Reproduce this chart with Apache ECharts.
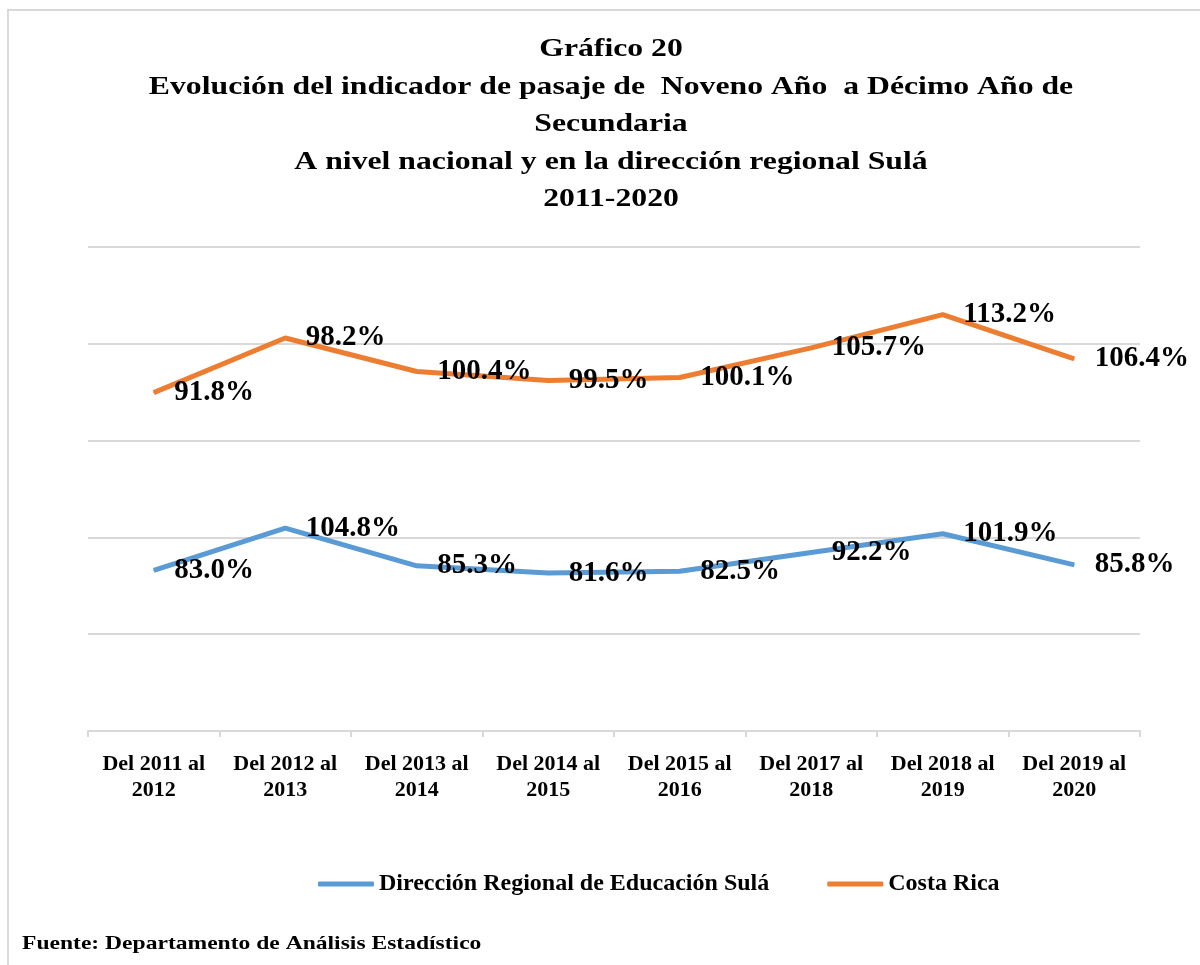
<!DOCTYPE html>
<html>
<head>
<meta charset="utf-8">
<script src="https://cdn.jsdelivr.net/npm/echarts@6/dist/echarts.min.js"></script>
<style>
  html, body { margin: 0; padding: 0; background: #fff; }
  #chart { width: 1200px; height: 965px; }
</style>
</head>
<body>
<div id="chart"></div>
<script>
// datos (apilado: Costa Rica va encima de la regional)
var periodos = ["Del 2011 al\n2012", "Del 2012 al\n2013", "Del 2013 al\n2014", "Del 2014 al\n2015",
    "Del 2015 al\n2016", "Del 2017 al\n2018", "Del 2018 al\n2019", "Del 2019 al\n2020"];
var regionalSula = [83.0, 104.8, 85.3, 81.6, 82.5, 92.2, 101.9, 85.8];
var costaRica = [91.8, 98.2, 100.4, 99.5, 100.1, 105.7, 113.2, 106.4];
var nombres = ["Dirección Regional de Educación Sulá", "Costa Rica"];
var tituloLineas = [
    "Gráfico 20",
    "Evolución del indicador de pasaje de  Noveno Año  a Décimo Año de",
    "Secundaria",
    "A nivel nacional y en la dirección regional Sulá",
    "2011-2020"
];

var serif = "'Liberation Serif', 'Times New Roman', serif";
var gris = "#d9d9d9";

function serie(nombre, datos, color) {
    return {
        name: nombre,
        type: "line",
        stack: "total",
        data: datos,
        symbol: "circle",
        symbolSize: 1,
        showSymbol: true,
        lineStyle: { color: color, width: 5 },
        itemStyle: { color: color },
        label: {
            show: true,
            position: "right",
            distance: 20,
            color: "#000",
            fontFamily: serif,
            fontWeight: "bold",
            fontSize: 29,
            formatter: function (p) {
                return p.value.toFixed(1) + "%";
            }
        }
    };
}

var myChart = echarts.init(document.getElementById("chart"));
var option = {
    animation: false,
    backgroundColor: "#fff",
    graphic: [{
        type: "rect",
        shape: { x: 8, y: 10, width: 1400, height: 1200 },
        style: { fill: "none", stroke: gris, lineWidth: 2 },
        silent: true
    }, {
        // el titulo original esta algo ensanchado
        type: "text",
        x: 611,
        y: 31,
        scaleX: 1.22,
        style: {
            text: tituloLineas.join("\n"),
            align: "center",
            verticalAlign: "top",
            font: "bold 26px " + serif,
            lineHeight: 37.5,
            fill: "#000"
        }
    }, {
        type: "text",
        x: 22,
        y: 944,
        scaleX: 1.24,
        style: {
            text: "Fuente: Departamento de Análisis Estadístico",
            verticalAlign: "middle",
            font: "bold 19px " + serif,
            fill: "#000"
        }
    }],
    legend: {
        left: 313,
        top: 867,
        itemWidth: 56,
        itemHeight: 5,
        itemGap: 58,
        icon: "roundRect",
        data: nombres,
        textStyle: {
            color: "#000",
            fontFamily: serif,
            fontWeight: "bold",
            fontSize: 24
        }
    },
    grid: {
        left: 88,
        right: 60,
        top: 247,
        bottom: 234,
        containLabel: false
    },
    xAxis: {
        type: "category",
        data: periodos,
        boundaryGap: true,
        axisLine: { lineStyle: { color: gris, width: 2 } },
        axisTick: { show: true, interval: 0, length: 6, lineStyle: { color: gris, width: 2 } },
        axisLabel: {
            interval: 0,
            margin: 20,
            color: "#000",
            fontFamily: serif,
            fontWeight: "bold",
            fontSize: 22,
            lineHeight: 26
        }
    },
    yAxis: {
        type: "value",
        min: 0,
        max: 250,
        interval: 50,
        axisLabel: { show: false },
        axisLine: { show: false },
        axisTick: { show: false },
        splitLine: { show: true, lineStyle: { color: gris, width: 2 } }
    },
    series: [
        serie(nombres[0], regionalSula, "#5b9bd5"),
        serie(nombres[1], costaRica, "#ed7d31")
    ]
};
myChart.setOption(option);
</script>
</body>
</html>
